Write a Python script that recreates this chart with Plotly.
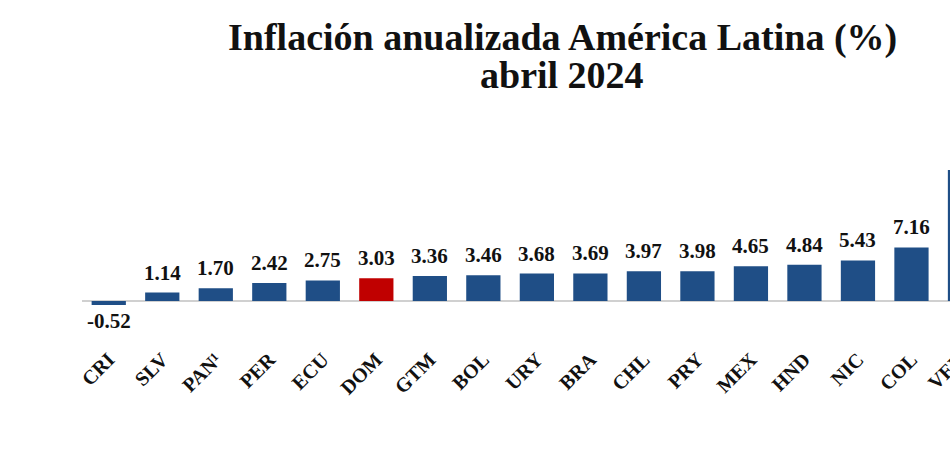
import plotly.graph_objects as go

categories = ["CRI", "SLV", "PAN¹", "PER", "ECU", "DOM", "GTM", "BOL", "URY", "BRA",
              "CHL", "PRY", "MEX", "HND", "NIC", "COL", "VEN"]
values = [-0.52, 1.14, 1.70, 2.42, 2.75, 3.03, 3.36, 3.46, 3.68, 3.69,
          3.97, 3.98, 4.65, 4.84, 5.43, 7.16, 64.88]
labels = [f"{v:.2f}" for v in values]
highlight = "DOM"

BLUE = "#1F4E86"
RED = "#C00000"
colors = [RED if c == highlight else BLUE for c in categories]

SERIF = "Liberation Serif, Times New Roman, serif"

W, H = 950, 465
M_L, M_R, M_T, M_B = 82, 0, 170, 122
plot_h = H - M_T - M_B
plot_w = W - M_L - M_R


def py(px):
    """pixel row (from top) -> paper y"""
    return (H - M_B - px) / plot_h


def px_(x):
    """pixel column -> paper x"""
    return (x - M_L) / plot_w


idx = list(range(len(categories)))
x_range = [-0.5, 15.72]
y_range = [-5.6, 17.5]

fig = go.Figure()
fig.add_trace(go.Bar(
    x=idx, y=values, marker=dict(color=colors, line=dict(width=0)),
    width=0.64, hoverinfo="skip",
))

# value labels above / below bars
for i, (v, t) in enumerate(zip(values, labels)):
    fig.add_annotation(
        x=i, y=v, text=t, showarrow=False,
        yanchor="bottom" if v >= 0 else "top",
        yshift=6 if v >= 0 else -2,
        font=dict(family=SERIF, size=21, color="#111111", weight="bold"),
    )

fig.update_xaxes(
    range=x_range, tickmode="array", tickvals=idx[:-1], ticktext=categories[:-1],
    tickangle=-45, showline=False, showgrid=False, ticks="",
    tickfont=dict(family=SERIF, size=20, color="#111111", weight="bold"),
)
fig.update_yaxes(
    range=y_range, showticklabels=False, showgrid=False, ticks="",
    zeroline=True, zerolinecolor="#d0d0d0", zerolinewidth=1.5, showline=False,
)

# partially visible last tick label (VEN) beyond the right edge
last = len(categories) - 1
fig.add_annotation(
    x=(last - x_range[0]) / (x_range[1] - x_range[0]), xref="paper",
    y=0, yref="paper", text=categories[last], showarrow=False,
    textangle=-45, xanchor="right", yanchor="top", yshift=-2, xshift=7,
    font=dict(family=SERIF, size=20, color="#111111", weight="bold"),
)

fig.add_annotation(
    x=px_(562), xref="paper", y=py(37), yref="paper",
    yanchor="middle", xanchor="center", showarrow=False,
    text="Inflación anualizada América Latina (%)",
    font=dict(family=SERIF, size=38, color="#111111", weight="bold"),
)
fig.add_annotation(
    x=px_(562), xref="paper", y=py(75), yref="paper",
    yanchor="middle", xanchor="center", showarrow=False,
    text="abril 2024",
    font=dict(family=SERIF, size=38, color="#111111", weight="bold"),
)

fig.update_layout(
    width=W, height=H,
    margin=dict(l=M_L, r=M_R, t=M_T, b=M_B),
    paper_bgcolor="white", plot_bgcolor="white",
    showlegend=False,
)

fig.write_html("out.html")
